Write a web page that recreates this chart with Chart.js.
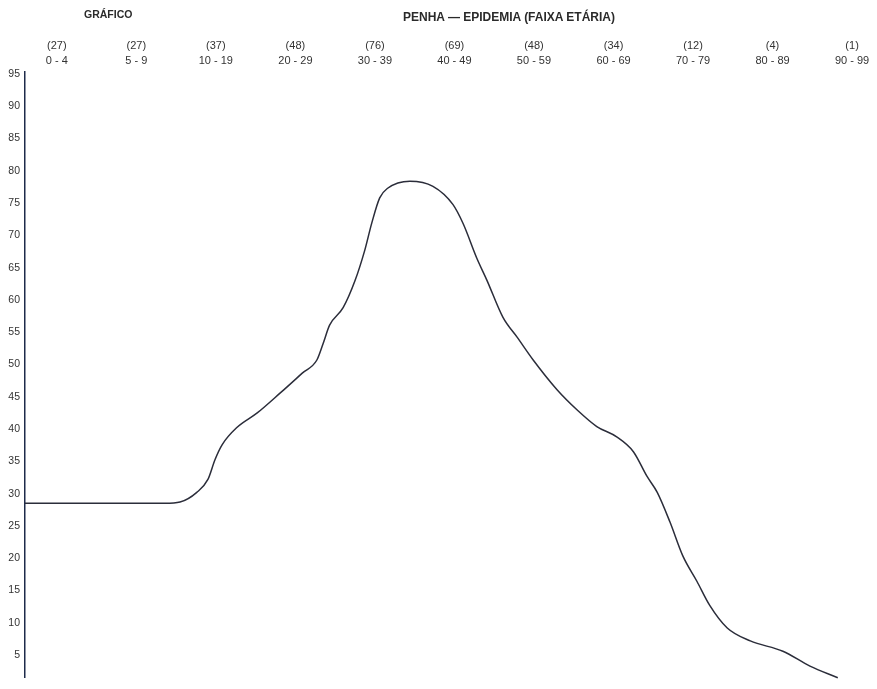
<!DOCTYPE html>
<html lang="pt">
<head>
    <meta charset="UTF-8">
    <title>Penha — Epidemia (Faixa Etária)</title>
    <script src="https://cdn.jsdelivr.net/npm/chart.js@4.4.1/dist/chart.umd.min.js"></script>
    <style>
        body { margin: 0; background: #fff; font-family: "Liberation Sans", Arial, sans-serif; }
        .wrap { position: relative; width: 877px; height: 689px; }
        .title { position: absolute; font-weight: bold; color: #2a2a2a; white-space: nowrap; }
        #t1 { left: 84px; top: 8px; font-size: 10.5px; }
        #t2 { left: 403px; top: 10px; font-size: 12px; }
    </style>
</head>
<body>
<div class="wrap">
    <div class="title" id="t1">GRÁFICO</div>
    <div class="title" id="t2">PENHA — EPIDEMIA (FAIXA ETÁRIA)</div>
    <canvas id="chart" width="877" height="689"></canvas>
</div>

<script>
// age groups on the top axis and the case counts shown above them
const ageGroups = ['0 - 4', '5 - 9', '10 - 19', '20 - 29', '30 - 39', '40 - 49', '50 - 59', '60 - 69', '70 - 79', '80 - 89', '90 - 99'];
const caseCounts = [27, 27, 37, 48, 76, 69, 48, 34, 12, 4, 1];
const yTicks = [5, 10, 15, 20, 25, 30, 35, 40, 45, 50, 55, 60, 65, 70, 75, 80, 85, 90, 95];

// hand drawn curve (x in age-group columns, 0 = "0 - 4")
const curveX = [-0.40, 1.36, 1.55, 1.76, 1.90, 1.99, 2.08, 2.26, 2.52, 2.81, 3.09, 3.27, 3.35, 3.43, 3.60, 3.75, 3.87, 3.96, 4.06, 4.16, 4.44, 4.73, 4.98, 5.11, 5.28, 5.41, 5.61, 5.79, 5.99, 6.29, 6.54, 6.79, 7.04, 7.25, 7.42, 7.55, 7.71, 7.87, 8.05, 8.21, 8.43, 8.72, 9.13, 9.47, 9.82];
const curveY = [28.5, 28.5, 28.7, 30.2, 32.2, 35.3, 37.6, 40.2, 42.5, 45.6, 48.7, 50.7, 53.3, 56.1, 58.8, 63.0, 67.6, 71.9, 75.8, 77.3, 78.4, 77.6, 74.8, 71.8, 66.5, 63.0, 57.3, 54.2, 50.7, 46.1, 43.0, 40.4, 38.8, 36.5, 32.7, 30.2, 25.6, 20.4, 16.4, 12.7, 9.2, 7.2, 5.6, 3.3, 1.5];

const points = curveX.map((x, i) => ({ x: x, y: curveY[i] }));

const ctx = document.getElementById('chart').getContext('2d');
new Chart(ctx, {
    type: 'line',
    data: {
        datasets: [{
            data: points,
            borderColor: '#2b2d3a',
            borderWidth: 1.5,
            pointRadius: 0,
            fill: false,
            cubicInterpolationMode: 'monotone',
            clip: false
        }]
    },
    options: {
        responsive: false,
        animation: false,
        layout: { padding: { top: 30, right: 9, bottom: 9, left: 0 } },
        plugins: { legend: { display: false }, tooltip: { enabled: false } },
        scales: {
            x: {
                type: 'linear',
                position: 'top',
                min: -0.40,
                max: 10.2,
                grid: { display: false, drawTicks: false },
                border: { display: false },
                afterBuildTicks: function(scale) {
                    scale.ticks = ageGroups.map((_, i) => ({ value: i }));
                },
                afterFit: function(scale) { scale.height = 42; },
                ticks: {
                    autoSkip: false,
                    maxRotation: 0,
                    padding: 4,
                    color: '#333',
                    font: { family: 'Liberation Sans', size: 11, lineHeight: 1.35 },
                    callback: function(value, index) {
                        return ['(' + caseCounts[index] + ')', ageGroups[index]];
                    }
                }
            },
            y: {
                type: 'linear',
                min: 1.5,
                max: 95.3,
                grid: { display: false, drawTicks: false },
                border: { display: true, color: '#1e2b4a', width: 1.5 },
                afterBuildTicks: function(scale) {
                    scale.ticks = yTicks.map(v => ({ value: v }));
                },
                afterFit: function(scale) { scale.width = 25; },
                ticks: {
                    padding: 5,
                    color: '#333',
                    font: { family: 'Liberation Sans', size: 10.5 }
                }
            }
        }
    }
});
</script>
</body>
</html>
